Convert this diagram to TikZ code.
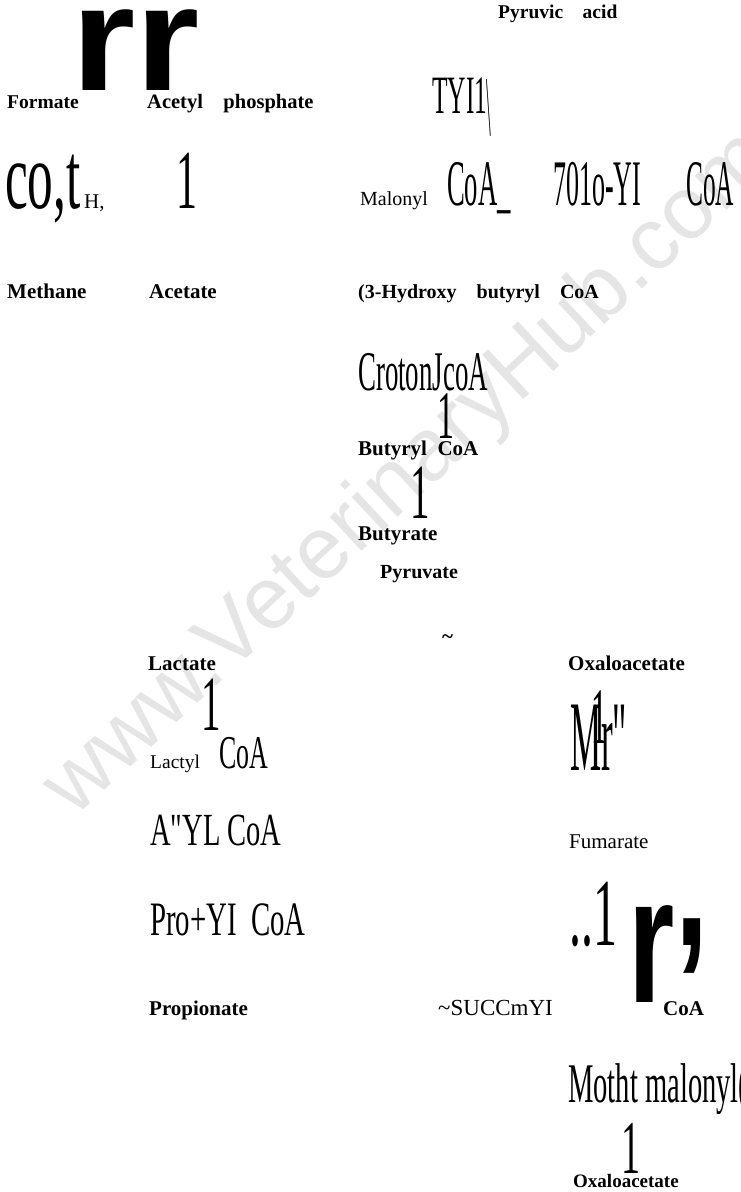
\documentclass[tikz,border=0pt]{standalone}
\usepackage{fontspec}
\usepackage{graphicx}
\setmainfont{Liberation Serif}
\newfontfamily\arialfam{Liberation Sans}
\newcommand{\tall}[3]{\fontsize{#1}{#1}\selectfont\scalebox{#2}[1]{#3}}
\tikzset{lab/.style={anchor=base west,inner sep=0pt,font=\bfseries\fontsize{#1}{#1}\selectfont},lab/.default=21}
\tikzset{txt/.style={anchor=base west,inner sep=0pt,font=\fontsize{#1}{#1}\selectfont},txt/.default=20}
\tikzset{big/.style={anchor=base west,inner sep=0pt}}
\begin{document}
\begin{tikzpicture}[x=1pt,y=-1pt]
\path[use as bounding box,clip](0,0)rectangle(740,1192);
\node(wm)[rotate=43,text=black!10,font=\arialfam\fontsize{88}{88}\selectfont]at(410,475){www.VeterinaryHub.com};
% top row
\node(rr)[big]at(71,90){\arialfam\bfseries\tall{150}{1.1}{rr}};
\node(pyr)[lab=19.5]at(498,18){Pyruvic\quad acid};
\node(form)[lab=19.5]at(7,108){Formate};\node(acph)[lab=20.5]at(147,108){Acetyl\quad phosphate};
\node(tyi)[big]at(432,113){\tall{54}{.47}{TYI1}};\node(bsl)[big]at(486,135){\tall{85}{.2}{\textbackslash}};
\node(cot)[big]at(5,208){\tall{95}{.54}{co,t}};\node(hh)[txt=21]at(84,208){H,};
\node(oneA)[big]at(176,208){\tall{84}{.5}{1}};
\node(mal)[txt]at(360,205){Malonyl};\node(coaA)[big]at(447,205){\tall{65}{.41}{CoA\_}};
\node(sev)[big]at(553,205){\tall{65}{.4}{701o-YI}};\node(coaB)[big]at(686,205){\tall{65}{.39}{CoA}};
\node(meth)[lab]at(7,298){Methane};\node(acet)[lab]at(149,298){Acetate};
\node(hyd)[lab=20]at(358,298){(3-Hydroxy\quad butyryl\quad CoA};
% butyrate branch
\node(crot)[big]at(358,390){\tall{56}{.48}{CrotonJcoA}};
\node(oneB)[big]at(437,438){\tall{68}{.5}{1}};
\node(butc)[lab]at(358,455){Butyryl\enspace CoA};
\node(oneC)[big]at(410,518){\tall{78}{.5}{1}};
\node(buty)[lab]at(358,540){Butyrate};
\node(pyrv)[lab=20]at(380,578){Pyruvate};
\node(tld)[lab]at(442,643){\textasciitilde};
% propionate branch
\node(lact)[lab]at(148,670){Lactate};\node(oneD)[big]at(201,730){\tall{78}{.5}{1}};
\node(lacl)[txt=19.5]at(150,768){Lactyl};\node(coaC)[big]at(219,768){\tall{47}{.55}{CoA}};
\node(ayl)[big]at(150,845){\tall{46}{.62}{A\textquotedbl YL CoA}};
\node(prop)[big]at(150,935){\tall{48}{.6}{Pro+YI\ \ CoA}};
\node(propn)[lab]at(149,1015){Propionate};
\node(succ)[txt=23]at(438,1015){\textasciitilde SUCCmYI};\node(coaD)[lab]at(663,1015){CoA};
% succinate branch
\node(oxa)[lab]at(568,670){Oxaloacetate};
\node(mr)[big]at(570,770){\tall{100}{.35}{Mr\textquotedbl}};\node(oneE)[big]at(591,743){\tall{80}{.4}{1}};
\node(fum)[txt=21]at(569,848){Fumarate};
\node(dots)[big]at(569,945){\tall{96}{.5}{..1}};
\node(rbig)[big]at(628,1002){\arialfam\bfseries\tall{180}{.66}{r}};
\node(comma)[big]at(675,945){\arialfam\bfseries\tall{180}{.66}{,}};
\node(moth)[big]at(568,1102){\tall{56}{.51}{Motht malonyl(}};
\node(oneF)[big]at(621,1173){\tall{76}{.5}{1}};
\node(oxb)[lab=19]at(573,1187){Oxaloacetate};
\end{tikzpicture}
\end{document}
